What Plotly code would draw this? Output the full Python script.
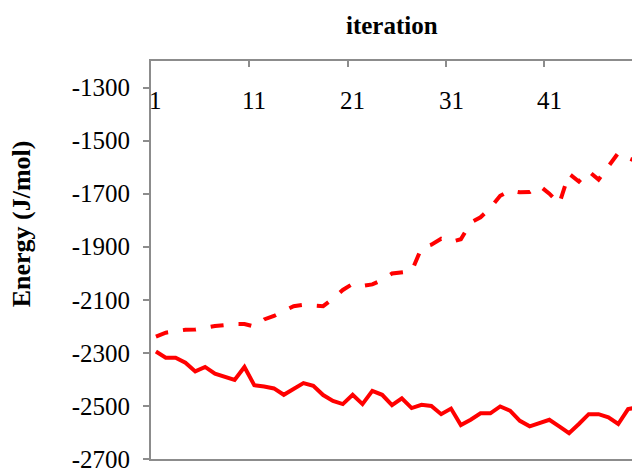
import plotly.graph_objects as go

# Iteration index (1-based) for both energy traces
iterations = list(range(1, 51))

# Upper trace (dashed) energy values, J/mol
energy_dashed = [
    -2239, -2224, -2218, -2213, -2212, -2205, -2199, -2195, -2191, -2191,
    -2201, -2174, -2161, -2142, -2124, -2119, -2121, -2124, -2096, -2063,
    -2040, -2048, -2042, -2025, -2001, -1998, -1992, -1905, -1892, -1870,
    -1882, -1872, -1809, -1789, -1754, -1708, -1688, -1695, -1694, -1670,
    -1700, -1738, -1625, -1654, -1616, -1647, -1600, -1547, -1566, -1580,
]

# Lower trace (solid) energy values, J/mol
energy_solid = [
    -2295, -2318, -2318, -2337, -2370, -2353, -2378, -2389, -2402, -2353,
    -2422, -2427, -2434, -2458, -2437, -2414, -2424, -2459, -2481, -2493,
    -2458, -2493, -2443, -2458, -2497, -2471, -2508, -2496, -2500, -2531,
    -2510, -2572, -2552, -2528, -2528, -2502, -2518, -2556, -2577, -2566,
    -2552, -2577, -2603, -2568, -2531, -2531, -2543, -2568, -2512, -2505,
]

x_tick_vals = [1, 11, 21, 31, 41]
x_tick_text = ["1", "11", "21", "31", "41"]
x_boundaries = [10.5, 20.5, 30.5, 40.5]
y_tick_vals = [-2700, -2500, -2300, -2100, -1900, -1700, -1500, -1300]
y_tick_text = [str(v) for v in y_tick_vals]

RED = "#FF0000"
AXIS = "#8C8C8C"
FONT = "Liberation Serif, Times New Roman, serif"

fig = go.Figure()
fig.add_trace(go.Scatter(
    x=iterations, y=energy_dashed, mode="lines",
    line=dict(color=RED, width=4, dash="13px,15px"),
    showlegend=False, hoverinfo="skip",
))
fig.add_trace(go.Scatter(
    x=iterations, y=energy_solid, mode="lines",
    line=dict(color=RED, width=4),
    showlegend=False, hoverinfo="skip",
))

# Category labels sit just under the top axis line, inside the plot area
x_label_annotations = [
    dict(text=t, x=v, xref="x", y=0.9, yref="paper",
         xanchor="center", yanchor="middle", showarrow=False,
         font=dict(family=FONT, size=25, color="black"))
    for v, t in zip(x_tick_vals, x_tick_text)
]

fig.update_layout(
    width=632, height=473,
    margin=dict(l=151, r=0, t=61, b=12),
    paper_bgcolor="white", plot_bgcolor="white",
    font=dict(family=FONT, size=25, color="black"),
    xaxis=dict(
        range=[0.5, 49.4], side="top",
        showline=True, linecolor=AXIS, linewidth=2, mirror=True,
        tickmode="array", tickvals=x_boundaries,
        ticks="inside", ticklen=6, tickwidth=2, tickcolor=AXIS,
        showticklabels=False,
        showgrid=False, zeroline=False,
    ),
    yaxis=dict(
        range=[-2700, -1200],
        showline=True, linecolor=AXIS, linewidth=2,
        tickmode="array", tickvals=y_tick_vals, ticktext=y_tick_text,
        ticks="outside", ticklen=6, tickwidth=2, tickcolor=AXIS,
        ticklabelstandoff=8, ticklabeloverflow="allow",
        tickfont=dict(family=FONT, size=25, color="black"),
        showgrid=False, zeroline=False,
    ),
    annotations=x_label_annotations + [
        dict(text="<b>iteration</b>", xref="paper", yref="paper",
             x=0.5, y=1.088, xanchor="center", yanchor="middle",
             showarrow=False, font=dict(family=FONT, size=25, color="black")),
        dict(text="<b>Energy (J/mol)</b>", xref="paper", yref="paper",
             x=-0.27, y=0.59, xanchor="center", yanchor="middle",
             textangle=-90, showarrow=False,
             font=dict(family=FONT, size=26, color="black")),
    ],
)

fig.write_html("out.html")
